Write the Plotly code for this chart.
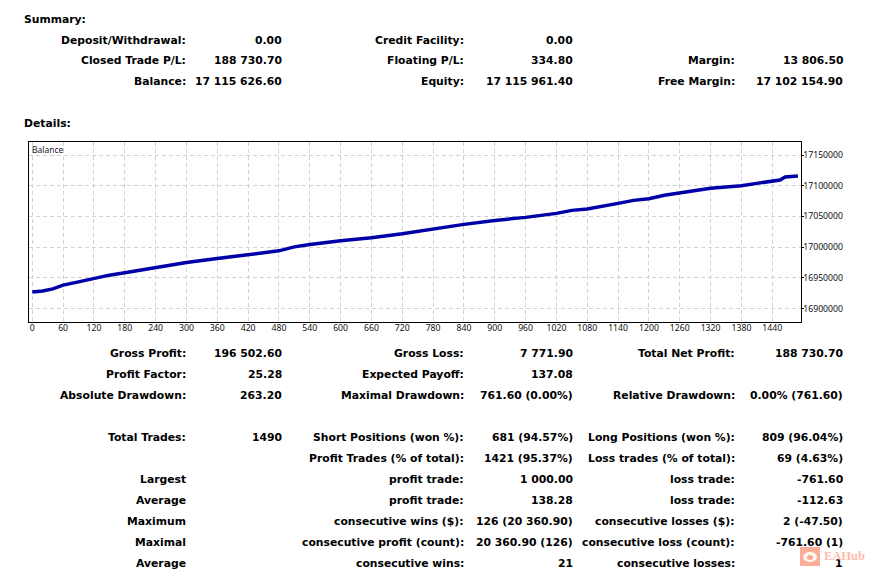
import plotly.graph_objects as go

W, H = 871, 571

# balance curve
trades = [0, 20, 40, 60, 90, 120, 150, 180, 240, 300, 360, 420, 480, 510, 540, 600, 660, 720, 780, 840,
          900, 960, 1020, 1050, 1080, 1095, 1110, 1140, 1170, 1200, 1230, 1260, 1290, 1320, 1350, 1380,
          1410, 1440, 1455, 1465, 1480, 1490]
balance = [16926900, 16928500, 16932000, 16938000, 16943400, 16948900, 16954300, 16958100, 16966200,
           16975000, 16981500, 16988000, 16993900, 17000400, 17004300, 17010200, 17015100, 17021600,
           17029800, 17037000, 17043500, 17048400, 17054900, 17059800, 17061900, 17064500, 17067300,
           17071200, 17076100, 17078700, 17084300, 17088500, 17091300, 17095700, 17097800, 17100000,
           17103800, 17107100, 17109200, 17114100, 17115300, 17115626]

x_ticks = list(range(0, 1500, 60))
y_ticks = [16900000, 16950000, 17000000, 17050000, 17100000, 17150000]

headings = ["Summary:", "Details:"]
heading_y = [19, 123]

# pixel rows of the text table
summary_y = [40, 61, 82]
summary_labels_1 = ["Deposit/Withdrawal:", "Closed Trade P/L:", "Balance:"]
summary_values_1 = ["0.00", "188 730.70", "17 115 626.60"]
summary_labels_2 = ["Credit Facility:", "Floating P/L:", "Equity:"]
summary_values_2 = ["0.00", "334.80", "17 115 961.40"]
summary_labels_3 = ["", "Margin:", "Free Margin:"]
summary_values_3 = ["", "13 806.50", "17 102 154.90"]

details_y = [353, 374, 395, 437, 458, 479, 500, 521, 542, 563]
details_labels_1 = ["Gross Profit:", "Profit Factor:", "Absolute Drawdown:", "Total Trades:", "",
                    "Largest", "Average", "Maximum", "Maximal", "Average"]
details_values_1 = ["196 502.60", "25.28", "263.20", "1490", "", "", "", "", "", ""]
details_labels_2 = ["Gross Loss:", "Expected Payoff:", "Maximal Drawdown:", "Short Positions (won %):",
                    "Profit Trades (% of total):", "profit trade:", "profit trade:",
                    "consecutive wins ($):", "consecutive profit (count):", "consecutive wins:"]
details_values_2 = ["7 771.90", "137.08", "761.60 (0.00%)", "681 (94.57%)", "1421 (95.37%)", "1 000.00",
                    "138.28", "126 (20 360.90)", "20 360.90 (126)", "21"]
details_labels_3 = ["Total Net Profit:", "", "Relative Drawdown:", "Long Positions (won %):",
                    "Loss trades (% of total):", "loss trade:", "loss trade:", "consecutive losses ($):",
                    "consecutive loss (count):", "consecutive losses:"]
details_values_3 = ["188 730.70", "", "0.00% (761.60)", "809 (96.04%)", "69 (4.63%)", "-761.60", "-112.63",
                    "2 (-47.50)", "-761.60 (1)", "1"]

BOLD = "DejaVu Sans"
BOLD_SIZE = 10.8
AXIS_FONT = dict(family="Noto Sans", size=8.7, color="#111111")
GRID = dict(showgrid=True, gridcolor="#d2d2d2", gridwidth=1, griddash="4px,3px", zeroline=False)
LOGO = "#fb9f86"


def px_x(x):
    return x / W


def px_y(y):
    return 1 - y / H


def text_item(x, y, text, anchor="right"):
    # annotations carry about 2px of padding, hence the shift
    shift = 2 if anchor == "right" else -2
    return dict(xref="paper", yref="paper", x=px_x(x), y=px_y(y), text=f"<b>{text}</b>", showarrow=False,
                xanchor=anchor, yanchor="middle", align=anchor, xshift=shift,
                font=dict(family=BOLD, size=BOLD_SIZE, color="#000000"))


annotations = []
for text, y in zip(headings, heading_y):
    annotations.append(text_item(24, y, text, "left"))

for rows, columns in [
    (summary_y, [(186, summary_labels_1), (282, summary_values_1), (464, summary_labels_2),
                 (573, summary_values_2), (735, summary_labels_3), (843, summary_values_3)]),
    (details_y, [(186, details_labels_1), (282, details_values_1), (464, details_labels_2),
                 (573, details_values_2), (735, details_labels_3), (843, details_values_3)]),
]:
    for right, texts in columns:
        for y, text in zip(rows, texts):
            if text:
                annotations.append(text_item(right, y, text))

annotations.append(dict(xref="paper", yref="paper", x=px_x(30), y=px_y(149), text="Balance", showarrow=False,
                        xanchor="left", yanchor="middle", font=dict(family="Noto Sans", size=8.5, color="#222222")))
annotations.append(dict(xref="paper", yref="paper", x=px_x(822), y=px_y(556), text="<b>EAHub</b>", showarrow=False,
                        xanchor="left", yanchor="middle", opacity=0.7,
                        font=dict(family="Liberation Serif", size=12.5, color="#fb9f86")))

fig = go.Figure()
fig.add_trace(go.Scatter(x=trades, y=balance, mode="lines", line=dict(color="#0000a8", width=3.5),
                         hoverinfo="skip", showlegend=False))

# watermark logo
shapes = [
    dict(type="rect", xref="paper", yref="paper", x0=px_x(801), x1=px_x(819), y0=px_y(565), y1=px_y(548),
         fillcolor=LOGO, line=dict(color=LOGO, width=2), opacity=0.85, layer="above"),
    dict(type="circle", xref="paper", yref="paper", x0=px_x(803), x1=px_x(817), y0=px_y(562), y1=px_y(552),
         fillcolor="#ffffff", line=dict(width=0), opacity=0.9, layer="above"),
    dict(type="circle", xref="paper", yref="paper", x0=px_x(807), x1=px_x(813), y0=px_y(560), y1=px_y(555),
         fillcolor=LOGO, line=dict(width=0), opacity=0.9, layer="above"),
]

fig.update_layout(
    width=W, height=H, margin=dict(l=0, r=0, t=0, b=0), autosize=False,
    paper_bgcolor="#ffffff", plot_bgcolor="#ffffff", showlegend=False,
    annotations=annotations, shapes=shapes,
    xaxis=dict(domain=[px_x(29), px_x(800.5)], range=[-6.4, 1495], tickmode="array", tickvals=x_ticks,
               ticktext=[str(v) for v in x_ticks], tickfont=AXIS_FONT, ticks="", ticklabelstandoff=-2,
               showline=True, linecolor="#000000", linewidth=1, mirror=True, **GRID),
    yaxis=dict(domain=[px_y(321.5), px_y(141.5)], range=[16878800, 17172000], side="right", tickmode="array",
               tickvals=y_ticks, ticktext=[str(v) for v in y_ticks], tickfont=AXIS_FONT, ticks="outside",
               ticklen=2, tickcolor="#000000", ticklabelstandoff=-2, showline=True, linecolor="#000000",
               linewidth=1, mirror=True, **GRID),
)

fig.write_html("out.html", config=dict(displayModeBar=False), post_script="document.body.style.margin='0';")
